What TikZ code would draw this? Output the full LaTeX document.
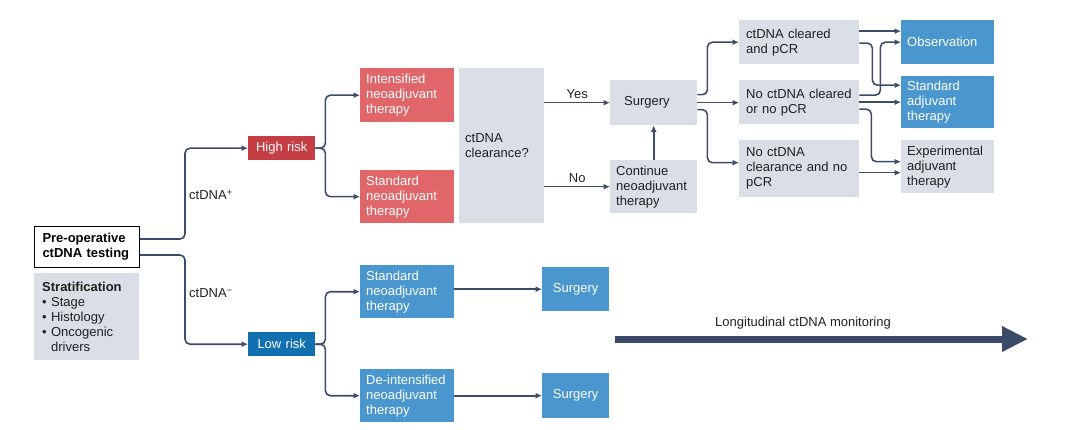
\documentclass[tikz,border=0pt]{standalone}
\usepackage{fontspec}
\setmainfont{Liberation Sans}
\usetikzlibrary{arrows.meta, positioning}
\definecolor{linec}{HTML}{3D4C6B}
\definecolor{greyc}{HTML}{D9DEE7}
\definecolor{hredc}{HTML}{C53E44}
\definecolor{redc}{HTML}{E0666A}
\definecolor{lblue}{HTML}{1170B0}
\definecolor{bluec}{HTML}{4A96CE}
\definecolor{bigc}{HTML}{3A4A69}
\definecolor{txtc}{HTML}{231F20}
\newcommand{\fsz}{\fontsize{13pt}{15pt}\selectfont}
\tikzset{
    bx/.style 2 args={rectangle, anchor=north west, inner xsep=6pt, inner ysep=0pt, minimum width=#1pt, minimum height=#2pt, text width=#1pt-12pt, align=left, font=\fsz},
    gnode/.style={fill=greyc, text=txtc},
    rnode/.style={fill=redc, text=white},
    hnode/.style={fill=hredc, text=white, align=center},
    bnode/.style={fill=bluec, text=white},
    lnode/.style={fill=lblue, text=white, align=center},
    lbl/.style={font=\fsz, text=txtc, inner sep=2pt},
    conn/.style={draw=linec, line width=1.6pt, rounded corners=5pt, -{Latex[length=6.5pt, width=6pt]}},
    bigarrow/.style={draw=bigc, line width=7pt, -{Triangle[length=26pt, width=24pt]}},
}
\begin{document}
\begin{tikzpicture}[x=1pt, y=1pt]
    \useasboundingbox (0,0) rectangle (1077,429);
    % left column
    \node[bx={105}{41}, draw=black, line width=1pt, fill=white, inner xsep=8pt, text width=89pt, font=\fsz\bfseries] (preop) at (34,203) {Pre-operative\\ctDNA testing};
    \node[bx={105}{87}, gnode, inner xsep=8pt, text width=89pt] (strat) at (34,156) {\textbf{Stratification}\\\textbullet\ Stage\\\textbullet\ Histology\\\textbullet\ Oncogenic\\\phantom{\textbullet\ }drivers};
    \node[bx={67}{24}, hnode] (high) at (248,293) {High risk};
    \node[bx={67}{24}, lnode] (low) at (248,97) {Low risk};
    % high-risk arm
    \node[bx={94}{54}, rnode] (intens) at (360,361) {Intensified\\neoadjuvant\\therapy};
    \node[bx={94}{53}, rnode] (stdred) at (360,259) {Standard\\neoadjuvant\\therapy};
    \node[bx={85}{155}, gnode] (clear) at (459,361) {ctDNA\\clearance?};
    \node[bx={87}{45}, gnode, inner xsep=14pt, text width=59pt] (surg) at (610,349) {Surgery};
    \node[bx={87}{53}, gnode] (cont) at (610,269) {Continue\\neoadjuvant\\therapy};
    \node[bx={120}{44}, gnode, inner xsep=7pt, text width=106pt] (cleared) at (739,409) {ctDNA cleared\\and pCR};
    \node[bx={120}{44}, gnode, inner xsep=7pt, text width=106pt] (nocl) at (739,349) {No ctDNA cleared\\or no pCR};
    \node[bx={120}{57}, gnode, inner xsep=7pt, text width=106pt] (noclr) at (739,289) {No ctDNA\\clearance and no\\pCR};
    \node[bx={93}{44}, bnode] (obs) at (901,409) {Observation};
    \node[bx={93}{52}, bnode] (stdadj) at (901,353) {Standard\\adjuvant\\therapy};
    \node[bx={93}{53}, gnode] (exp) at (901,289) {Experimental\\adjuvant\\therapy};
    % low-risk arm
    \node[bx={94}{53}, bnode] (stdblue) at (360,164) {Standard\\neoadjuvant\\therapy};
    \node[bx={94}{53}, bnode] (deint) at (360,60) {De-intensified\\neoadjuvant\\therapy};
    \node[bx={67}{44}, bnode, align=center] (surgb) at (542,162) {Surgery};
    \node[bx={67}{45}, bnode, align=center] (surgc) at (542,56) {Surgery};

    \draw[conn] ([yshift=8pt]preop.east) -- ++(45,0) |- (high.west);
    \draw[conn] ([yshift=-8pt]preop.east) -- ++(45,0) |- (low.west);
    \node[lbl, anchor=west] (pos) at (187,234) {ctDNA\textsuperscript{+}};
    \node[lbl, anchor=west] (neg) at (187,136) {ctDNA\textsuperscript{\char"2212}};

    \draw[conn] (high.east) -- ++(10,0) |- (intens.west);
    \draw[conn] (high.east) -- ++(10,0) |- (stdred.west);
    \draw[conn] (low.east) -- ++(10,0) |- (stdblue.west);
    \draw[conn] (low.east) -- ++(10,0) |- (deint.west);

    \draw[conn] (clear.east |- surg.west) -- (surg.west) node[lbl, midway, above=1pt] {Yes};
    \draw[conn] (clear.east |- cont.west) -- (cont.west) node[lbl, midway, above=1pt] {No};
    \draw[conn] (cont.north) -- (surg.south);

    \draw[conn] ([yshift=8pt]surg.east) -- ++(10,0) |- (cleared.west);
    \draw[conn] (surg.east) -- (surg.east -| nocl.west);
    \draw[conn] ([yshift=-7pt]surg.east) -- ++(10,0) |- ([yshift=6pt]noclr.west);

    \draw[conn] ([yshift=11pt]cleared.east) -- ([yshift=11pt]cleared.east -| obs.west);
    \draw[conn] ([yshift=-1pt]cleared.east) -- ++(13,0) |- ([yshift=17pt]stdadj.west);
    \draw[conn] ([yshift=7pt]nocl.east) -- ++(21,0) |- (obs.west);
    \draw[conn] (nocl.east) -- (nocl.east -| stdadj.west);
    \draw[conn] ([yshift=-7pt]nocl.east) -- ++(12,0) |- ([yshift=5pt]exp.west);
    \draw[conn] ([yshift=-4pt]noclr.east) -- ([yshift=-4pt]noclr.east -| exp.west);

    \draw[conn] (stdblue.east |- surgb.west) -- (surgb.west);
    \draw[conn] (deint.east |- surgc.west) -- (surgc.west);

    \coordinate (mstart) at (615,90);
    \coordinate (mend) at (1028,90);
    \draw[bigarrow] (mstart) -- (mend);
    \node[lbl] (mlabel) at (803,106) {Longitudinal ctDNA monitoring};
\end{tikzpicture}
\end{document}
